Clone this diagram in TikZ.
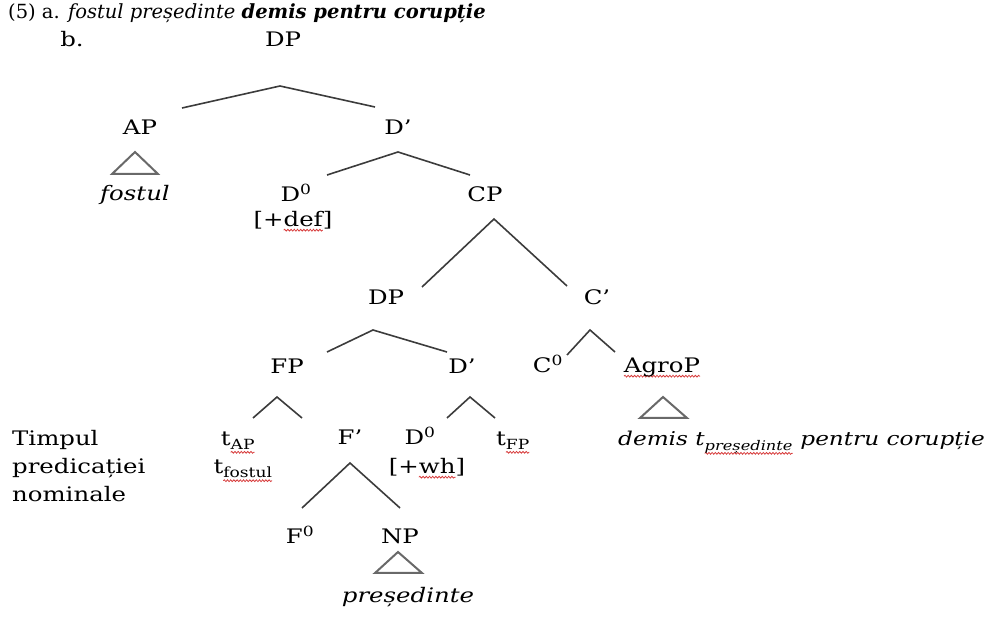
\documentclass[tikz,border=0pt]{standalone}
\usepackage{fontspec}
\setmainfont[FakeStretch=1.22]{DejaVu Serif}
\newfontfamily\titlefam{DejaVu Serif}
\usetikzlibrary{decorations.pathmorphing}
\definecolor{branch}{RGB}{60,60,60}
\definecolor{tri}{RGB}{105,105,105}
\definecolor{spell}{RGB}{215,60,60}
\newsavebox\rwbox
\newcommand\rw[1]{\sbox\rwbox{#1}\tikz[baseline=0pt,x=1pt,y=1pt]{\useasboundingbox (0,0);
  \draw[spell, line width=0.8pt, decorate, decoration={snake, amplitude=0.9pt, segment length=3.2pt}] (0pt,-3.2pt) -- (\the\wd\rwbox,-3.2pt);}\usebox\rwbox}
\newcommand\mainfont{\fontsize{20}{24}\selectfont}
\newcommand\demisfont{\fontsize{19}{23}\selectfont}
\begin{document}
\begin{tikzpicture}[x=1pt,y=-1pt,
  every node/.style={font=\mainfont, inner sep=0pt},
  lbl/.style={anchor=base},
  br/.style={draw=branch, line width=1.6pt},
  roof/.style={draw=tri, line width=2pt, line join=miter}]
\useasboundingbox (0,0) rectangle (1005,617);
% header
\node[lbl] (b) at (72,47) {b.};
\node[anchor=base west, font=\titlefam\fontsize{19.5}{24}\selectfont] (title) at (8,19) {(5) a. \textit{fostul președinte} \textbf{\textit{demis pentru corupție}}};
% tree labels
\node[lbl] (dp1) at (283,47) {DP};
\node[lbl] (ap) at (140,135) {AP};
\node[lbl] (dbar1) at (398,135) {D’};
\node[lbl] (fostul) at (135,201) {\textit{fostul}};
\node[lbl] (d0a) at (296,202) {D\textsuperscript{0}};
\node[lbl] (def) at (293,227) {[+\rw{def}]};
\node[lbl] (cp) at (485,202) {CP};
\node[lbl] (dp2) at (386,305) {DP};
\node[lbl] (cbar) at (597,305) {C’};
\node[lbl] (fp) at (287,374) {FP};
\node[lbl] (dbar2) at (462,374) {D’};
\node[lbl] (c0) at (548,373) {C\textsuperscript{0}};
\node[lbl] (agrop) at (662,373) {\rw{AgroP}};
\node[lbl] (tap) at (238,446) {t\textsubscript{\rw{AP}}};
\node[lbl] (fbar) at (350,445) {F’};
\node[lbl] (d0b) at (420,445) {D\textsuperscript{0}};
\node[lbl] (tfp) at (513,446) {t\textsubscript{\rw{FP}}};
\node[anchor=base west, font=\demisfont] (demis) at (618,446) {\textit{demis t\textsubscript{\rw{președinte}} pentru corupție}};
\node[lbl] (tfostul) at (243,474) {t\textsubscript{\rw{fostul}}};
\node[lbl] (wh) at (427,474) {[+\rw{wh}]};
\node[lbl] (f0) at (300,544) {F\textsuperscript{0}};
\node[lbl] (np) at (400,544) {NP};
\node[lbl] (pres) at (408,602) {\textit{președinte}};
\node[anchor=north west, align=left, font=\fontsize{20}{28}\selectfont] (timp) at (12,430) {Timpul\\predicației\\nominale};
% branch points
\coordinate (k1) at (280,86);  \coordinate (k1l) at (182,108); \coordinate (k1r) at (375,107);
\coordinate (k2) at (398,152); \coordinate (k2l) at (327,175); \coordinate (k2r) at (470,175);
\coordinate (k3) at (494,219); \coordinate (k3l) at (422,287); \coordinate (k3r) at (567,286);
\coordinate (k4) at (373,330); \coordinate (k4l) at (327,352); \coordinate (k4r) at (447,352);
\coordinate (k5) at (277,397); \coordinate (k5l) at (253,418); \coordinate (k5r) at (302,418);
\coordinate (k6) at (470,397); \coordinate (k6l) at (447,418); \coordinate (k6r) at (495,418);
\coordinate (k7) at (590,330); \coordinate (k7l) at (567,355); \coordinate (k7r) at (615,352);
\coordinate (k8) at (350,463); \coordinate (k8l) at (302,508); \coordinate (k8r) at (400,508);
\foreach \k in {k1,k2,k3,k4,k5,k6,k7,k8}{
  \draw[br] (\k l) -- (\k) -- (\k r);
}
% roofs
\coordinate (r1) at (135,152); \coordinate (r1l) at (112,174); \coordinate (r1r) at (158,174);
\coordinate (r2) at (663,397); \coordinate (r2l) at (640,418); \coordinate (r2r) at (687,418);
\coordinate (r3) at (398,552); \coordinate (r3l) at (375,573); \coordinate (r3r) at (422,573);
\foreach \r in {r1,r2,r3}{
  \draw[roof] (\r) -- (\r l) -- (\r r) -- cycle;
}
\end{tikzpicture}
\end{document}
